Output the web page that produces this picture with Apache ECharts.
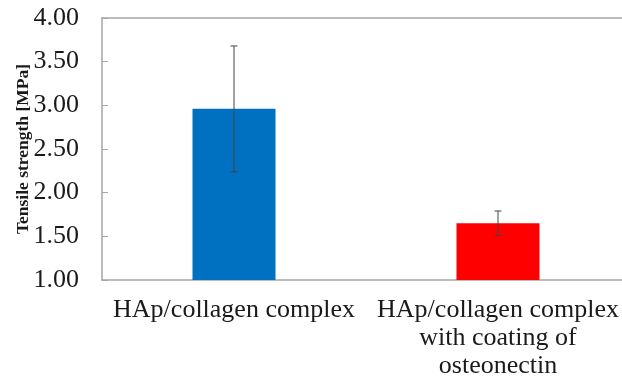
<!DOCTYPE html>
<html><head><meta charset="utf-8">
<script src="https://cdn.jsdelivr.net/npm/echarts@6/dist/echarts.min.js"></script>
<style>html,body{margin:0;padding:0;background:#fff;overflow:hidden;}#c{width:622px;height:381px;}</style>
</head><body><div id="c"></div>
<script>
const categories = ['HAp/collagen complex', 'HAp/collagen complex\nwith coating of\nosteonectin'];
const means = [2.96, 1.65];
const errors = [0.72, 0.14];
const barColors = ['#0070C0', '#FF0000'];
const yTicks = [1, 1.5, 2, 2.5, 3, 3.5, 4];

const chart = echarts.init(document.getElementById('c'), null, {renderer: 'canvas'});
const font = '"Liberation Serif", "Times New Roman", serif';
const lineCol = '#a6a6a6';
chart.setOption({
  animation: false,
  grid: {left: 102, top: 18, width: 528, bottom: 101, show: false,
         containLabel: false, outerBoundsMode: 'none'},
  xAxis: [{
    type: 'category', data: categories,
    axisLine: {lineStyle: {color: lineCol, width: 1.5}},
    axisTick: {show: false},
    splitLine: {show: false},
    axisLabel: {color: '#1a1a1a', fontFamily: font, fontSize: 26, lineHeight: 28, margin: 16, interval: 0}
  }, {
    type: 'category', data: categories, position: 'top',
    axisLine: {show: true, lineStyle: {color: lineCol, width: 1.5}},
    splitLine: {show: false},
    axisTick: {show: false}, axisLabel: {show: false}
  }],
  yAxis: {
    type: 'value', min: yTicks[0], max: yTicks[yTicks.length - 1], interval: 0.5,
    name: 'Tensile strength [MPa]', nameLocation: 'middle', nameGap: 70, nameMoveOverlap: false,
    nameTextStyle: {fontFamily: font, fontSize: 17.5, fontWeight: 'bold', color: '#1a1a1a'},
    axisLine: {show: true, lineStyle: {color: lineCol, width: 1.5}},
    axisTick: {show: true, inside: true, length: 6, lineStyle: {color: lineCol}},
    splitLine: {show: false},
    axisLabel: {color: '#1a1a1a', fontFamily: font, fontSize: 26, margin: 23,
      formatter: v => v.toFixed(2)}
  },
  series: [
    {
      type: 'bar', barWidth: 83,
      data: means.map((v, i) => ({value: v, itemStyle: {color: barColors[i]}}))
    },
    {
      type: 'custom',
      data: means.map((v, i) => [i, v - errors[i], v + errors[i]]),
      renderItem: function (params, api) {
        const x = api.value(0);
        const lo = api.coord([x, api.value(1)]);
        const hi = api.coord([x, api.value(2)]);
        const hw = 3.5;
        const style = {stroke: '#444', lineWidth: 1};
        return {
          type: 'group',
          children: [
            {type: 'line', shape: {x1: lo[0], y1: lo[1], x2: hi[0], y2: hi[1]}, style: style},
            {type: 'line', shape: {x1: hi[0] - hw, y1: hi[1], x2: hi[0] + hw, y2: hi[1]}, style: style},
            {type: 'line', shape: {x1: lo[0] - hw, y1: lo[1], x2: lo[0] + hw, y2: lo[1]}, style: style}
          ]
        };
      },
      z: 5
    }
  ]
});
</script></body></html>
